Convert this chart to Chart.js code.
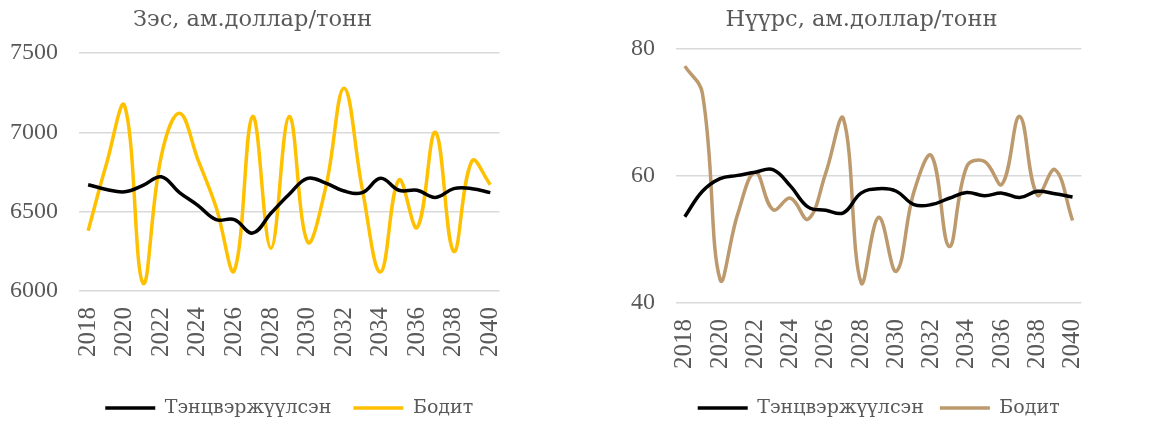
<!DOCTYPE html>
<html>
<head>
<meta charset="utf-8">
<script src="https://cdn.jsdelivr.net/npm/chart.js@4.4.1/dist/chart.umd.min.js"></script>
<style>
  html, body { margin: 0; padding: 0; background: #ffffff; overflow: hidden; width: 1159px; height: 425px; position: relative; }
  #c1 { position: absolute; left: 0; top: 0; }
  #c2 { position: absolute; left: 625px; top: 0; }
</style>
</head>
<body>
<canvas id="c1" width="537" height="425"></canvas>
<canvas id="c2" width="494" height="425"></canvas>
<script>
const years = ['2018','2019','2020','2021','2022','2023','2024','2025','2026','2027','2028','2029','2030','2031','2032','2033','2034','2035','2036','2037','2038','2039','2040'];

const seriesNames = ['Тэнцвэржүүлсэн', 'Бодит'];

const copperTitle = 'Зэс, ам.доллар/тонн';
const copperBalanced = [6670,6640,6625,6665,6720,6620,6540,6450,6450,6365,6490,6610,6710,6680,6630,6620,6710,6635,6635,6590,6645,6645,6620];
const copperActual   = [6380,6800,7166,6050,6850,7120,6830,6528,6130,7100,6270,7100,6310,6655,7278,6640,6120,6700,6400,7000,6250,6820,6670];
const copperTicks = [6000, 6500, 7000, 7500];

const coalTitle = 'Нүүрс, ам.доллар/тонн';
const coalBalanced = [53.6,57.6,59.6,60.1,60.6,61.0,58.4,55.1,54.6,54.2,57.3,58.0,57.6,55.5,55.5,56.5,57.4,56.9,57.3,56.6,57.6,57.2,56.7];
const coalActual   = [77.3,73.0,43.7,54.0,60.6,54.7,56.5,53.2,60.5,69.0,43.2,53.5,45.0,57.5,63.2,48.9,61.5,62.3,58.7,69.4,57.0,61.0,53.0];
const coalTicks = [40, 60, 80];

const NUMFONT = "'Liberation Serif', serif";
const TXTFONT = "'DejaVu Serif', serif";
const TXT = '#595959';

function makeChart(id, title, balanced, actual, actualColor, ticks, cfg) {
  const min = ticks[0], max = ticks[ticks.length - 1], step = ticks[1] - ticks[0];
  return new Chart(document.getElementById(id), {
    type: 'line',
    data: {
      labels: years,
      datasets: [
        { label: seriesNames[0], data: balanced, borderColor: '#000000', backgroundColor: '#000000',
          borderWidth: 3.5, pointRadius: 0, tension: 0.4, fill: false },
        { label: seriesNames[1], data: actual, borderColor: actualColor, backgroundColor: actualColor,
          borderWidth: 3.5, pointRadius: 0, tension: 0.4, fill: false }
      ]
    },
    options: {
      responsive: false,
      animation: false,
      layout: { padding: { left: 0, right: cfg.padRight, top: 0, bottom: -2.5 } },
      plugins: {
        title: { display: true, text: title, color: TXT, font: { family: TXTFONT, size: 22.5, weight: 'normal' },
                 padding: { top: 6.5, bottom: cfg.titlePadBottom } },
        legend: {
          position: 'bottom', fullSize: false,
          labels: { usePointStyle: true, pointStyle: 'line', pointStyleWidth: 50, padding: cfg.legendPad,
                    color: TXT, font: { family: TXTFONT, size: 19 } }
        },
        tooltip: { enabled: false }
      },
      scales: {
        x: {
          offset: true,
          grid: { display: false, drawTicks: false },
          border: { display: false },
          ticks: {
            autoSkip: false, minRotation: 90, maxRotation: 90, padding: cfg.xPad,
            color: TXT, font: { family: NUMFONT, size: 25 },
            callback: function(v, i) { return i % 2 === 0 ? years[i] : ''; }
          },
          afterFit: function(s) { s.height = cfg.xAxisH; }
        },
        y: {
          min: min, max: max,
          grid: { color: '#d9d9d9', lineWidth: 1.5, drawTicks: false },
          border: { display: false },
          ticks: { stepSize: step, padding: 21, color: TXT, font: { family: NUMFONT, size: 24 },
                   callback: function(v) { return String(v); } },
          afterFit: function(s) { s.width = cfg.yAxisW; }
        }
      }
    }
  });
}

makeChart('c1', copperTitle, copperBalanced, copperActual, '#FFC000', copperTicks,
  { yAxisW: 79, padRight: 32, titlePadBottom: 19.5, xAxisH: 85.5, xPad: 16, legendPad: 22 });
makeChart('c2', coalTitle, coalBalanced, coalActual, '#BC9A6E', coalTicks,
  { yAxisW: 51, padRight: 21, titlePadBottom: 15.5, xAxisH: 79.5, xPad: 16, legendPad: 16 });
</script>
</body>
</html>
